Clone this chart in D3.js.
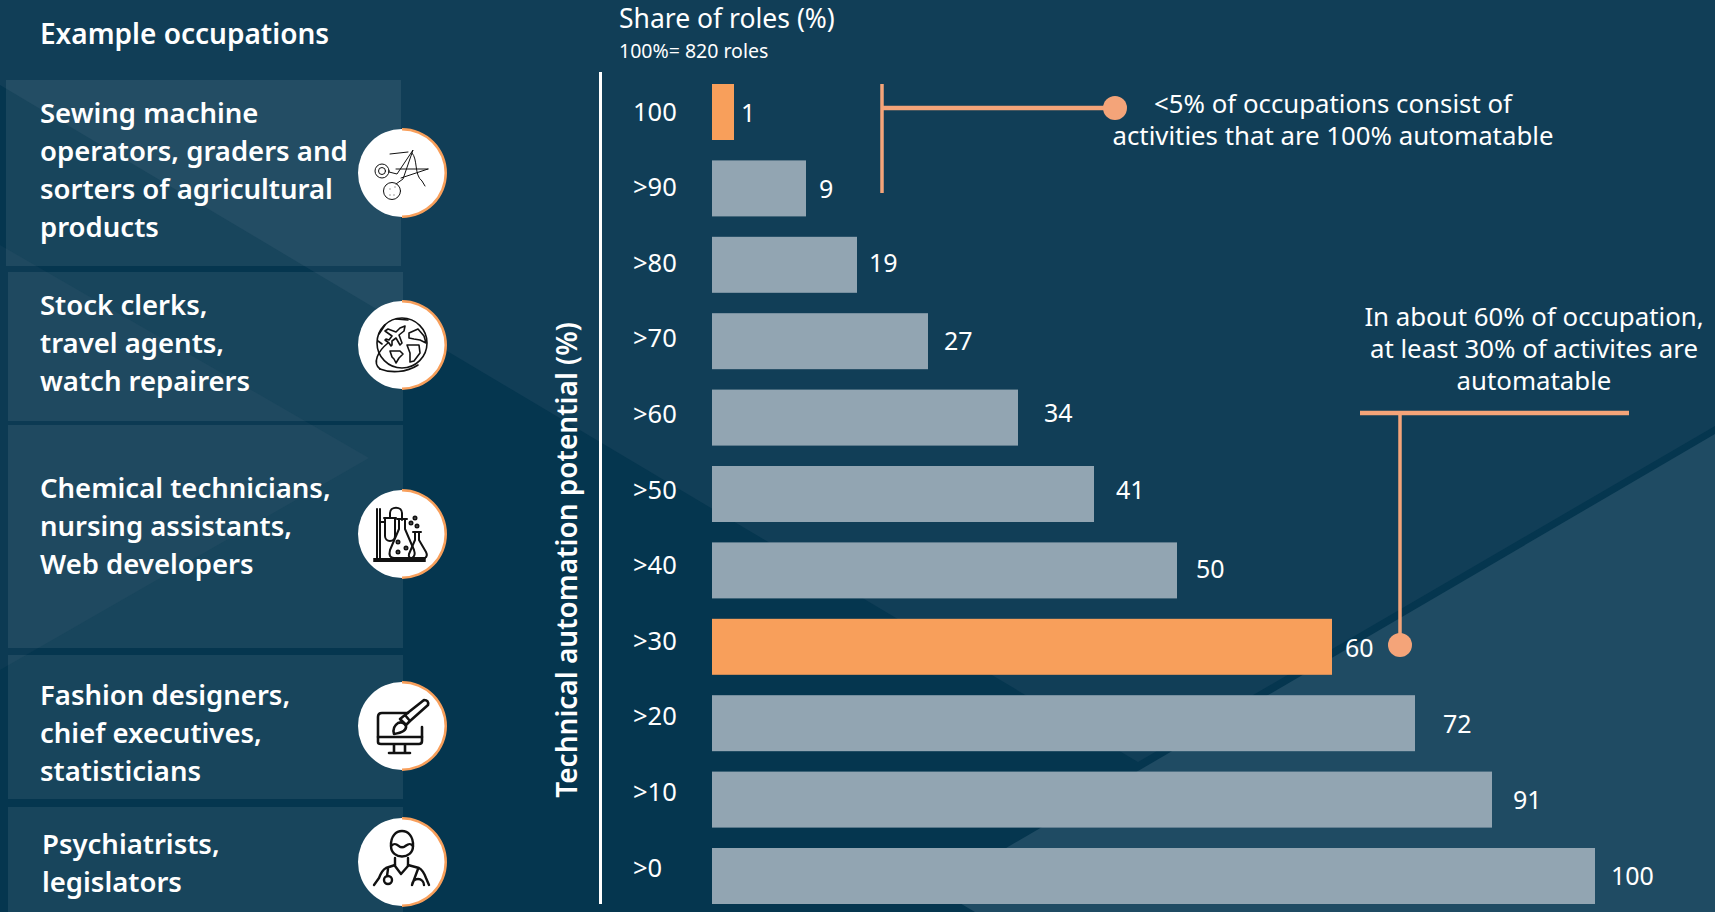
<!DOCTYPE html>
<html>
<head>
<meta charset="utf-8">
<script src="https://cdn.jsdelivr.net/npm/d3@7"></script>
<style>
  html, body { margin: 0; padding: 0; background: #113e57; overflow: hidden; }
  svg { display: block; }
  text { font-family: "Noto Sans", "Open Sans", sans-serif; fill: #fff; }
  .occ { font-size: 27.5px; font-weight: 600; }
  .note { font-size: 25.8px; }
  .icon path, .icon circle { fill: none; stroke: #111; stroke-linecap: round; stroke-linejoin: round; }
</style>
</head>
<body>
<svg id="chart"></svg>
<script>
/* Data */
const tiers = ["100", ">90", ">80", ">70", ">60", ">50", ">40", ">30", ">20", ">10", ">0"];
const shares = [1, 9, 19, 27, 34, 41, 50, 60, 72, 91, 100];
const highlighted = ["100", ">30"];

const occupations = [
  ["Sewing machine", "operators, graders and", "sorters of agricultural", "products"],
  ["Stock clerks,", "travel agents,", "watch repairers"],
  ["Chemical technicians,", "nursing assistants,", "Web developers"],
  ["Fashion designers,", "chief executives,", "statisticians"],
  ["Psychiatrists,", "legislators"]
];

const noteTop = ["<5% of occupations consist of", "activities that are 100% automatable"];
const noteMid = ["In about 60% of occupation,", "at least 30% of activites are", "automatable"];

/* Layout */
const width = 1715, height = 912;
const barLeft = 712;
const gray = "#92a5b2", orange = "#f89f5b", salmon = "#f4a479";

/* the bars in the original are not drawn to a straight scale, so the scale has a knot per value */
const lengthKnots = [22, 94, 145, 216, 306, 382, 465, 620, 703, 780, 883];
/* hand placed value labels: gap after the bar end, shift from the bar middle */
const labelGap = [7, 13, 12, 16, 26, 22, 19, 13, 28, 21, 16];
const labelShift = [1, 1, -2, 0, -4, -4, -1, 1, 1, 1, 0];

const panels = [
  { x: 6, y: 80, w: 395, h: 186, cy: 173, textX: 40, textY: 123 },
  { x: 8, y: 272, w: 395, h: 149, cy: 345, textX: 40, textY: 315 },
  { x: 8, y: 425, w: 395, h: 223, cy: 534, textX: 40, textY: 498 },
  { x: 8, y: 655, w: 395, h: 144, cy: 726, textX: 40, textY: 705 },
  { x: 8, y: 807, w: 395, h: 105, cy: 862, textX: 42, textY: 854 }
];

const svg = d3.select("#chart").attr("width", width).attr("height", height);

/* Background shapes */
const bg = svg.append("g");
bg.append("rect").attr("width", width).attr("height", height).attr("fill", "#113e57");
bg.append("polygon").attr("points", "0,85 1138,762 1715,426 1715,912 0,912").attr("fill", "#05364f");
bg.append("polygon").attr("points", "0,245 369,458 0,670").attr("fill", "#0c3a53");
bg.append("polygon").attr("points", "1715,434 936,889 975,912 1715,912").attr("fill", "#1f4b63");

/* Scales */
const x = d3.scaleLinear().domain(shares).range(lengthKnots);

const y = d3.scaleBand()
  .domain(tiers)
  .range([84, 904])
  .paddingInner(0.267);

const yLabels = d3.scalePoint()
  .domain(tiers)
  .range([112, 868]);

/* Left panels */
const panel = svg.append("g").selectAll("g")
  .data(panels)
  .join("g");

panel.append("rect")
  .attr("x", d => d.x)
  .attr("y", d => d.y)
  .attr("width", d => d.w)
  .attr("height", d => d.h)
  .attr("fill", "#fff")
  .attr("fill-opacity", 0.08);

panel.each(function (d, i) {
  const t = d3.select(this).append("text").attr("class", "occ");
  occupations[i].forEach((line, j) => {
    t.append("tspan").attr("x", d.textX).attr("y", d.textY + j * 38).text(line);
  });
});

/* Icon badges */
const arc = d3.arc().innerRadius(42.5).outerRadius(45).startAngle(0).endAngle(Math.PI);
const badge = panel.append("g").attr("transform", d => `translate(402, ${d.cy})`);
badge.append("circle").attr("r", 44).attr("fill", "#fff");
badge.append("path").attr("d", arc).attr("fill", orange);

const icons = [
  /* scissors and thread */
  { w: 1, shapes: [
    ["c", -20, -2, 7], ["c", -20, -2, 3.5], ["c", -10, 18, 8.5],
    ["p", "M-13,-1 L-5,1 L11,-23 L1,6 L-6,11"],
    ["p", "M-12,-19 L6,-21 M-6,-4 L26,-4 M-1,5 L26,-4 M10,-20 C16,-14 12,2 20,8 L23,13"],
    ["p", "M-12,16 L-12,16 M-7,14 L-7,14 M-8,22 L-8,22 M-12,22 L-12,22"]
  ] },
  /* globe and plane */
  { w: 1.6, shapes: [
    ["c", 0, -2, 25],
    ["p", "M-22,24 C-30,18 -24,6 -14,-2"],
    ["p", "M-22,24 C-12,28 4,28 16,20"],
    ["p", "M3,-19 L-2,-17 L-6,-13 L-14,-16 L-17,-14 L-10,-9 L-13,-5 L-16,-6 L-17,-5 L-13,-2 L-11,1 L-10,0 L-10,-4 L-6,-7 L-2,0 L0,-2 L-3,-10 L2,-14 Z"],
    ["p", "M7,-12 L16,-16 L22,-9 L24,-2 L18,-5 L12,-6 L7,-7 Z"],
    ["p", "M-12,6 L-2,6 L1,9 L-3,13 L-6,18 L-8,14 L-10,12 Z"],
    ["p", "M5,0 L17,0 L18,8 L12,16 L8,17 L8,8 Z"],
    ["p", "M-23,-11 L-17,-20 M-24,-4 L-20,-1 M-6,-26 L6,-25"]
  ] },
  /* flasks */
  { w: 2, shapes: [
    ["p", "M-25,-25 L-25,25 M-22,-25 L-22,25 M-28,25 L23,25 M-28,27 L23,27"],
    ["p", "M-22,-12 L-18,-12 M-18,-16 L-6,-16 M-17,-16 L-17,2 A5,5 0 0 0 -7,2 L-7,-16"],
    ["p", "M-12,-16 L-12,-21 C-12,-28 0,-28 0,-21 L0,-14"],
    ["p", "M-5,-15 L5,-15 M-3,-15 L-3,-5 L-12,16 Q-14,24 -8,24 L10,24 Q14,22 12,16 L3,-5 L3,-15"],
    ["p", "M11,-2 L19,-2 M13,-2 L13,6 L7,20 Q6,24 10,24 L23,24 Q26,22 24,18 L17,6 L17,-2"],
    ["c", -4, 8, 1.5], ["c", 4, 14, 1.5], ["c", -4, 18, 1.5], ["c", 13, -16, 1.5], ["c", 9, -11, 1.5], ["c", 15, -8, 1.5]
  ] },
  /* monitor and brush */
  { w: 2.6, shapes: [
    ["p", "M6,-13 L-20,-13 Q-24,-13 -24,-9 L-24,16 Q-24,18 -21,18 L17,18 Q20,18 20,15 L20,1"],
    ["p", "M-24,11 L20,11 M-8,19 L-8,26 M3,19 L3,26 M-13,27 L8,27"],
    ["p", "M-8,8 Q-10,1 -4,-3 Q2,-5 4,0 Q5,6 -8,8 Z"],
    ["p", "M-2,-7 L3,-11 L8,-5 L4,-1 Z M3,-11 L22,-26 Q27,-26 26,-21 L8,-5"]
  ] },
  /* doctor */
  { w: 2.4, shapes: [
    ["p", "M-11,-16 C-12,-36 12,-36 11,-16 C11,-2 -11,-2 -11,-16 Z"],
    ["p", "M-11,-16 C-5,-22 -3,-13 0,-15 C3,-13 6,-22 11,-16"],
    ["p", "M-7,-4 L-7,4 L-1,12 L6,4 L6,-4"],
    ["p", "M-7,3 L-16,6 Q-20,8 -23,16 L-28,23 M6,3 L17,6 Q21,8 24,16 L27,23"],
    ["p", "M-14,7 L-15,14 M16,7 L10,23 M10,23 A6,6 0 0 1 22,23"],
    ["c", -14, 18, 4]
  ] }
];

badge.each(function (d, i) {
  const g = d3.select(this).append("g").attr("class", "icon");
  icons[i].shapes.forEach(s => {
    if (s[0] === "c") {
      g.append("circle").attr("cx", s[1]).attr("cy", s[2]).attr("r", s[3]).attr("stroke-width", icons[i].w);
    } else {
      g.append("path").attr("d", s[1]).attr("stroke-width", icons[i].w);
    }
  });
});

/* Headers */
svg.append("text").attr("x", 40).attr("y", 44).style("font-size", "28px").style("font-weight", 600).text("Example occupations");
svg.append("text").attr("x", 619).attr("y", 28).style("font-size", "26.5px").text("Share of roles (%)");
svg.append("text").attr("x", 619).attr("y", 58).style("font-size", "19.5px").text("100%= 820 roles");

/* Y axis title and line */
svg.append("text")
  .attr("transform", "translate(577, 560) rotate(-90)")
  .attr("text-anchor", "middle")
  .style("font-size", "28px")
  .style("font-weight", 600)
  .text("Technical automation potential (%)");

svg.append("line")
  .attr("x1", 600.5).attr("x2", 600.5)
  .attr("y1", 72).attr("y2", 904)
  .attr("stroke", "#fff").attr("stroke-width", 3);

/* Tier labels */
const yAxis = svg.append("g")
  .attr("transform", "translate(633, 0)")
  .call(d3.axisLeft(yLabels).tickSize(0).tickPadding(0));
yAxis.select(".domain").remove();
yAxis.selectAll("text")
  .attr("text-anchor", "start")
  .style("font-family", "\"Noto Sans\", \"Open Sans\", sans-serif")
  .style("font-size", "25.5px");

/* Bars */
svg.append("g").selectAll("rect")
  .data(shares)
  .join("rect")
  .attr("x", barLeft)
  .attr("y", (d, i) => y(tiers[i]))
  .attr("width", d => x(d))
  .attr("height", y.bandwidth())
  .attr("fill", (d, i) => highlighted.includes(tiers[i]) ? orange : gray);

/* Value labels */
svg.append("g").selectAll("text")
  .data(shares)
  .join("text")
  .attr("x", (d, i) => barLeft + x(d) + labelGap[i])
  .attr("y", (d, i) => y(tiers[i]) + y.bandwidth() / 2 + labelShift[i])
  .attr("dy", "0.35em")
  .style("font-size", "25px")
  .text(d => d);

/* Annotations */
const leaders = svg.append("g").attr("stroke", salmon).attr("fill", "none");
leaders.append("line").attr("x1", 882).attr("x2", 882).attr("y1", 84).attr("y2", 193).attr("stroke-width", 3.5);
leaders.append("line").attr("x1", 882).attr("x2", 1115).attr("y1", 108).attr("y2", 108).attr("stroke-width", 4.5);
leaders.append("line").attr("x1", 1360).attr("x2", 1629).attr("y1", 413).attr("y2", 413).attr("stroke-width", 4.5);
leaders.append("line").attr("x1", 1400).attr("x2", 1400).attr("y1", 413).attr("y2", 645).attr("stroke-width", 3.5);
svg.append("circle").attr("cx", 1115).attr("cy", 108).attr("r", 12).attr("fill", salmon);
svg.append("circle").attr("cx", 1400).attr("cy", 645).attr("r", 12).attr("fill", salmon);

svg.append("text")
  .attr("class", "note")
  .attr("text-anchor", "middle")
  .selectAll("tspan")
  .data(noteTop)
  .join("tspan")
  .attr("x", 1333)
  .attr("y", (d, i) => 113 + i * 32)
  .text(d => d);

svg.append("text")
  .attr("class", "note")
  .attr("text-anchor", "middle")
  .selectAll("tspan")
  .data(noteMid)
  .join("tspan")
  .attr("x", 1534)
  .attr("y", (d, i) => 326 + i * 32)
  .text(d => d);
</script>
</body>
</html>
